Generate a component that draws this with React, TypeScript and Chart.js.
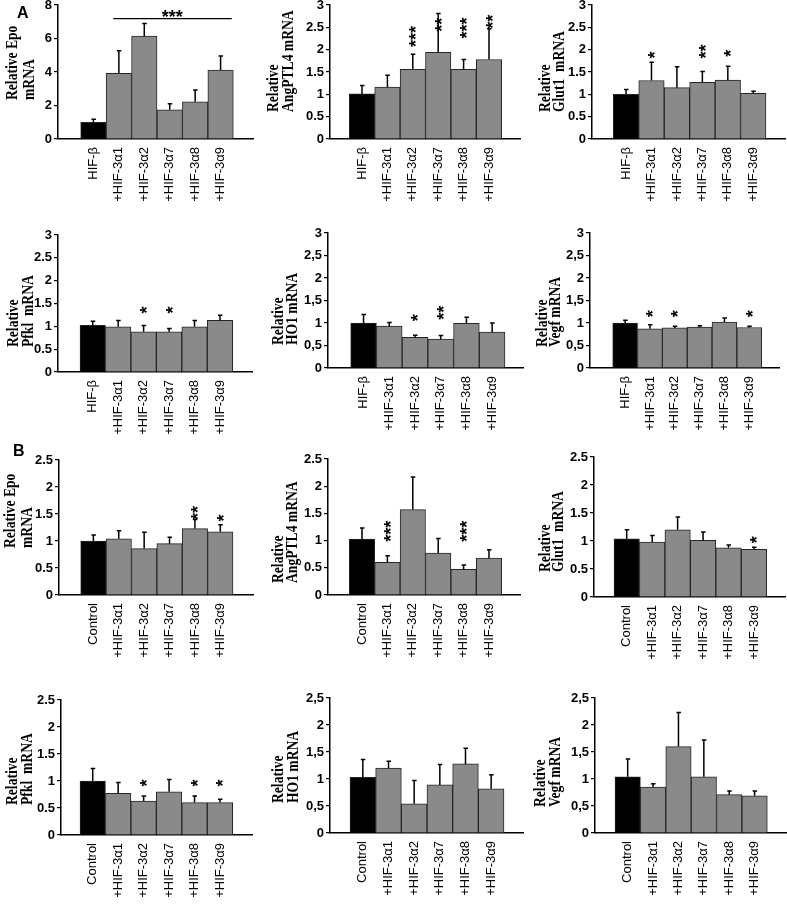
import React, { useEffect, useRef } from 'react';
import { Chart, registerables } from 'chart.js';

Chart.register(...registerables);

const SANS = '"Liberation Sans", Arial, sans-serif';
const SERIF = '"Liberation Serif", "Times New Roman", serif';

// ---------- categories ----------
const labelsA = ['HIF-β', '+HIF-3α1', '+HIF-3α2', '+HIF-3α7', '+HIF-3α8', '+HIF-3α9'];
const labelsB = ['Control', '+HIF-3α1', '+HIF-3α2', '+HIF-3α7', '+HIF-3α8', '+HIF-3α9'];

// ---------- panel A values (mean, error) ----------
const epoA = [1.0, 3.92, 6.14, 1.74, 2.22, 4.12];
const epoAErr = [0.18, 1.35, 0.75, 0.36, 0.71, 0.83];
const angA = [1.01, 1.16, 1.56, 1.94, 1.56, 1.78];
const angAErr = [0.19, 0.27, 0.34, 0.87, 0.22, 0.69];
const glutA = [1.0, 1.31, 1.15, 1.27, 1.32, 1.02];
const glutAErr = [0.11, 0.41, 0.47, 0.24, 0.31, 0.05];
const pfklA = [1.02, 0.99, 0.88, 0.88, 0.99, 1.13];
const pfklAErr = [0.09, 0.14, 0.14, 0.07, 0.14, 0.11];
const ho1A = [1.0, 0.93, 0.68, 0.64, 0.99, 0.8];
const ho1AErr = [0.19, 0.08, 0.05, 0.08, 0.14, 0.2];
const vegfA = [1.0, 0.87, 0.89, 0.91, 1.02, 0.9];
const vegfAErr = [0.06, 0.09, 0.04, 0.03, 0.09, 0.03];

// ---------- panel B values (mean, error) ----------
const epoB = [1.0, 1.04, 0.86, 0.95, 1.23, 1.17];
const epoBErr = [0.11, 0.15, 0.3, 0.12, 0.17, 0.13];
const angB = [1.03, 0.6, 1.57, 0.77, 0.47, 0.68];
const angBErr = [0.2, 0.12, 0.6, 0.27, 0.08, 0.15];
const glutB = [1.04, 0.98, 1.2, 1.01, 0.88, 0.85];
const glutBErr = [0.16, 0.12, 0.23, 0.15, 0.05, 0.04];
const pfklB = [1.0, 0.77, 0.63, 0.8, 0.6, 0.6];
const pfklBErr = [0.23, 0.2, 0.09, 0.23, 0.12, 0.06];
const ho1B = [1.03, 1.2, 0.54, 0.89, 1.28, 0.82];
const ho1BErr = [0.33, 0.13, 0.43, 0.38, 0.29, 0.26];
const vegfB = [1.04, 0.85, 1.6, 1.04, 0.71, 0.69];
const vegfBErr = [0.33, 0.06, 0.63, 0.68, 0.07, 0.09];

// ---------- significance marks (text, value level where the mark starts) ----------
const noStars = ['', '', '', '', '', ''];
const noStarAt = [0, 0, 0, 0, 0, 0];
const angAStars = ['', '', '***', '**', '***', '**'];
const angAStarAt = [0, 0, 2.06, 2.4, 2.25, 2.47];
const glutAStars = ['', '*', '', '**', '*', ''];
const glutAStarAt = [0, 1.8, 0, 1.8, 1.84, 0];
const pfklAStars = ['', '', '*', '*', '', ''];
const pfklAStarAt = [0, 0, 1.28, 1.28, 0, 0];
const ho1AStars = ['', '', '*', '**', '', ''];
const ho1AStarAt = [0, 0, 1.04, 1.07, 0, 0];
const vegfAStars = ['', '*', '*', '', '', '*'];
const vegfAStarAt = [0, 1.13, 1.13, 0, 0, 1.13];
const epoBStars = ['', '', '', '', '**', '*'];
const epoBStarAt = [0, 0, 0, 0, 1.39, 1.36];
const angBStars = ['', '***', '', '', '***', ''];
const angBStarAt = [0, 0.98, 0, 0, 0.98, 0];
const glutBStars = ['', '', '', '', '', '*'];
const glutBStarAt = [0, 0, 0, 0, 0, 0.96];
const pfklBStars = ['', '', '*', '', '*', '*'];
const pfklBStarAt = [0, 0, 0.9, 0, 0.9, 0.9];
// group bracket over +HIF-3α1..α9 in Epo (A)
const epoAGroup = { text: '***', from: 1.78, to: 6.44, at: 7.19, textAt: 4.1 };

type Geom = { ax: number; b0: number; b1: number; r: number; top: number; bot: number };
type TPos = { x1: number; x2: number; y: number };
type Panel = {
  title: string[];
  labels: string[];
  values: number[];
  errs: number[];
  stars: string[];
  starAt: number[];
  yMax: number;
  yStep: number;
  comma: boolean;
  group?: typeof epoAGroup;
  g: Geom;
  t: TPos;
};

const panels: Panel[] = [
  { title: ['Relative Epo', 'mRNA'], labels: labelsA, values: epoA, errs: epoAErr, stars: noStars, starAt: noStarAt, yMax: 8, yStep: 2, comma: false, group: epoAGroup,
    g: { ax: 58, b0: 80.7, b1: 233.3, r: 253, top: 5, bot: 139 }, t: { x1: 17, x2: 34, y: 100 } },
  { title: ['Relative', 'AngPTL4 mRNA'], labels: labelsA, values: angA, errs: angAErr, stars: angAStars, starAt: angAStarAt, yMax: 3, yStep: 0.5, comma: false,
    g: { ax: 330, b0: 349.3, b1: 501.7, r: 520, top: 5, bot: 139 }, t: { x1: 278, x2: 293, y: 112 } },
  { title: ['Relative', 'Glut1  mRNA'], labels: labelsA, values: glutA, errs: glutAErr, stars: glutAStars, starAt: glutAStarAt, yMax: 3, yStep: 0.5, comma: false,
    g: { ax: 592, b0: 613.3, b1: 766, r: 785, top: 5, bot: 139 }, t: { x1: 550, x2: 564, y: 112 } },
  { title: ['Relative', 'Pfkl  mRNA'], labels: labelsA, values: pfklA, errs: pfklAErr, stars: pfklAStars, starAt: pfklAStarAt, yMax: 3, yStep: 0.5, comma: false,
    g: { ax: 58, b0: 80, b1: 232.7, r: 252, top: 235, bot: 372 }, t: { x1: 18, x2: 33, y: 347 } },
  { title: ['Relative', 'HO1 mRNA'], labels: labelsA, values: ho1A, errs: ho1AErr, stars: ho1AStars, starAt: ho1AStarAt, yMax: 3, yStep: 0.5, comma: true,
    g: { ax: 328, b0: 350.7, b1: 505, r: 523, top: 233, bot: 368 }, t: { x1: 283, x2: 297, y: 345 } },
  { title: ['Relative', 'Vegf mRNA'], labels: labelsA, values: vegfA, errs: vegfAErr, stars: vegfAStars, starAt: vegfAStarAt, yMax: 3, yStep: 0.5, comma: true,
    g: { ax: 590, b0: 612.7, b1: 761.7, r: 779, top: 233, bot: 368 }, t: { x1: 547, x2: 560, y: 347 } },
  { title: ['Relative Epo', 'mRNA'], labels: labelsB, values: epoB, errs: epoBErr, stars: epoBStars, starAt: epoBStarAt, yMax: 2.5, yStep: 0.5, comma: false,
    g: { ax: 59, b0: 80.7, b1: 233, r: 253, top: 460, bot: 595 }, t: { x1: 15, x2: 32, y: 548 } },
  { title: ['Relative', 'AngPTL4 mRNA'], labels: labelsB, values: angB, errs: angBErr, stars: angBStars, starAt: angBStarAt, yMax: 2.5, yStep: 0.5, comma: false,
    g: { ax: 328, b0: 349.3, b1: 501.7, r: 520, top: 459, bot: 595 }, t: { x1: 283, x2: 297, y: 583 } },
  { title: ['Relative', 'Glut1  mRNA'], labels: labelsB, values: glutB, errs: glutBErr, stars: glutBStars, starAt: glutBStarAt, yMax: 2.5, yStep: 0.5, comma: false,
    g: { ax: 594, b0: 614, b1: 766.7, r: 785, top: 457, bot: 597 }, t: { x1: 550, x2: 563, y: 572 } },
  { title: ['Relative', 'Pfkl  mRNA'], labels: labelsB, values: pfklB, errs: pfklBErr, stars: pfklBStars, starAt: pfklBStarAt, yMax: 2.5, yStep: 0.5, comma: false,
    g: { ax: 61, b0: 80, b1: 232.7, r: 252, top: 700, bot: 835 }, t: { x1: 17, x2: 32, y: 805 } },
  { title: ['Relative', 'HO1 mRNA'], labels: labelsB, values: ho1B, errs: ho1BErr, stars: noStars, starAt: noStarAt, yMax: 2.5, yStep: 0.5, comma: true,
    g: { ax: 330, b0: 350, b1: 504, r: 523, top: 698, bot: 833 }, t: { x1: 283, x2: 298, y: 803 } },
  { title: ['Relative', 'Vegf mRNA'], labels: labelsB, values: vegfB, errs: vegfBErr, stars: noStars, starAt: noStarAt, yMax: 2.5, yStep: 0.5, comma: true,
    g: { ax: 595, b0: 615, b1: 767.3, r: 786, top: 698, bot: 833 }, t: { x1: 545, x2: 560, y: 807 } },
];

const YW = 70; // y-axis box width
const PT = 10; // top padding
const PR = 2; // right padding
const XH = 68; // x-axis box height

function PanelChart({ p }: { p: Panel }) {
  const ref = useRef<HTMLCanvasElement>(null);
  const g = p.g;
  const left = g.ax - YW;
  const top = g.top - PT;
  const width = g.r - g.ax + YW + PR;
  const height = g.bot - g.top + PT + XH;

  useEffect(() => {
    const u = (g.b1 - g.b0) / 6;
    const xMin = 0.5 - (g.b0 - g.ax) / u;
    const xMax = 6.5 + (g.r - g.b1) / u;

    const overlay = {
      id: 'overlay',
      afterDatasetsDraw(chart: any) {
        const ctx = chart.ctx as CanvasRenderingContext2D;
        const xs = chart.scales.x;
        const ys = chart.scales.y;
        const meta = chart.getDatasetMeta(0);
        ctx.save();
        // error bars
        ctx.strokeStyle = '#000';
        ctx.lineWidth = 1.5;
        p.errs.forEach((e, i) => {
          const bar = meta.data[i];
          const x = bar.x;
          const y0 = bar.y;
          const y1 = ys.getPixelForValue(p.values[i] + e);
          ctx.beginPath();
          ctx.moveTo(x, y0);
          ctx.lineTo(x, y1);
          ctx.moveTo(x - 2, y1);
          ctx.lineTo(x + 2.5, y1);
          ctx.stroke();
        });
        // significance marks (rotated like tick labels)
        ctx.fillStyle = '#000';
        ctx.font = `bold 18px ${SANS}`;
        ctx.textAlign = 'left';
        ctx.textBaseline = 'alphabetic';
        p.stars.forEach((s, i) => {
          if (!s) return;
          const x = meta.data[i].x;
          const y = ys.getPixelForValue(p.starAt[i]);
          const m = ctx.measureText(s);
          ctx.save();
          ctx.translate(x, y);
          ctx.rotate(-Math.PI / 2);
          ctx.fillText(s, m.actualBoundingBoxLeft, (m.actualBoundingBoxAscent - m.actualBoundingBoxDescent) / 2);
          ctx.restore();
        });
        // group bracket
        if (p.group) {
          const gr = p.group;
          const yl = ys.getPixelForValue(gr.at);
          ctx.lineWidth = 1.2;
          ctx.beginPath();
          ctx.moveTo(xs.getPixelForValue(gr.from), yl);
          ctx.lineTo(xs.getPixelForValue(gr.to), yl);
          ctx.stroke();
          const m = ctx.measureText(gr.text);
          const w = m.actualBoundingBoxLeft + m.actualBoundingBoxRight;
          ctx.fillText(gr.text, xs.getPixelForValue(gr.textAt) - w / 2 + m.actualBoundingBoxLeft, yl - 2 - m.actualBoundingBoxDescent);
        }
        // y-axis title (two lines, rotated, slightly condensed)
        ctx.font = `bold 16px ${SERIF}`;
        const xsLines = [p.t.x1, p.t.x2];
        p.title.forEach((line, k) => {
          ctx.save();
          ctx.translate(xsLines[k] - left, p.t.y - top);
          ctx.rotate(-Math.PI / 2);
          ctx.scale(0.85, 1);
          ctx.fillText(line, 0, 0);
          ctx.restore();
        });
        ctx.restore();
      },
    };

    const fmt = (v: any) => {
      const s = String(Number(Number(v).toFixed(2)));
      return p.comma ? s.replace('.', ',') : s;
    };

    const chart = new Chart(ref.current as HTMLCanvasElement, {
      type: 'bar',
      data: {
        datasets: [
          {
            data: p.values.map((v, i) => ({ x: i + 1, y: v })),
            backgroundColor: p.values.map((_, i) => (i === 0 ? '#000000' : '#8a8a8a')),
            borderColor: '#262626',
            borderWidth: 1,
            barPercentage: 1,
            categoryPercentage: 1,
          } as any,
        ],
      },
      options: {
        responsive: false,
        animation: false,
        events: [],
        layout: { padding: { top: PT, left: 0, right: PR, bottom: 0 } },
        plugins: { legend: { display: false }, tooltip: { enabled: false } },
        scales: {
          x: {
            type: 'linear',
            bounds: 'data',
            min: xMin,
            max: xMax,
            offset: false,
            grid: { display: false, drawTicks: false },
            border: { display: true, color: '#000', width: 1.5 },
            afterBuildTicks: (s: any) => {
              s.ticks = p.labels.map((_, i) => ({ value: i + 1 }));
            },
            afterFit: (s: any) => {
              s.height = XH;
            },
            ticks: {
              autoSkip: false,
              minRotation: 90,
              maxRotation: 90,
              padding: 8,
              color: '#000',
              font: { size: 13, family: SANS },
              callback: (v: any) => p.labels[Math.round(Number(v)) - 1] ?? '',
            },
          },
          y: {
            min: 0,
            max: p.yMax,
            grid: { display: true, drawOnChartArea: false, drawTicks: true, tickLength: 4, color: '#000', lineWidth: 1.2 },
            border: { display: true, color: '#000', width: 1.5 },
            afterFit: (s: any) => {
              s.width = YW;
            },
            ticks: {
              stepSize: p.yStep,
              padding: 2,
              color: '#000',
              font: { size: 13, weight: 'bold', family: SANS },
              callback: fmt,
            },
          },
        },
      } as any,
      plugins: [overlay],
    });
    return () => chart.destroy();
  }, []);

  return (
    <canvas
      ref={ref}
      width={width}
      height={height}
      style={{ position: 'absolute', left, top, width, height, display: 'block' }}
    />
  );
}

export default function App() {
  const letter: React.CSSProperties = {
    position: 'absolute',
    fontFamily: SANS,
    fontWeight: 'bold',
    fontSize: 16,
    lineHeight: '16px',
    color: '#000',
  };
  return (
    <div
      style={{
        position: 'absolute',
        left: 0,
        top: 0,
        width: 787,
        height: 904,
        overflow: 'hidden',
        background: '#fff',
      }}
    >
      {panels.map((p, i) => (
        <PanelChart key={i} p={p} />
      ))}
      <div style={{ ...letter, left: 17, top: 5 }}>A</div>
      <div style={{ ...letter, left: 13, top: 443 }}>B</div>
    </div>
  );
}
